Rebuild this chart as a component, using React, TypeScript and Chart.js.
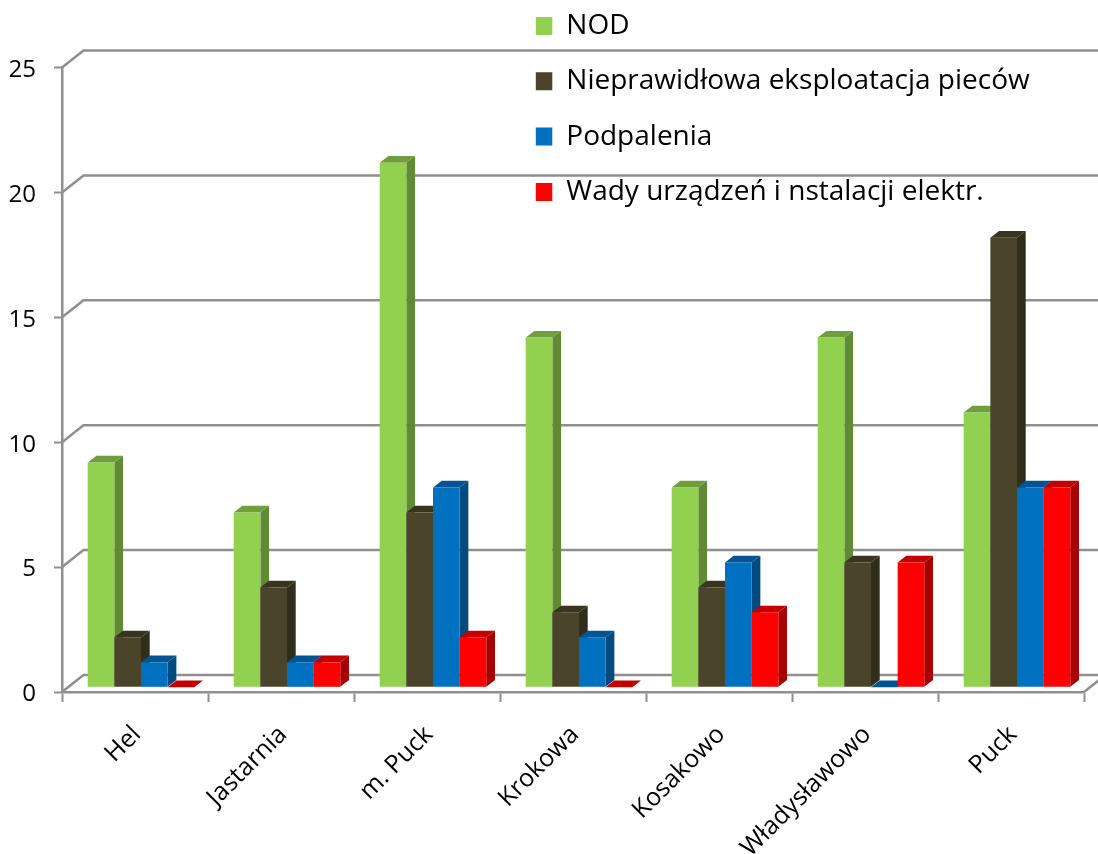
import React, { useEffect, useRef } from "react";
import { Chart, registerables } from "chart.js";

Chart.register(...registerables);

const categories = ["Hel", "Jastarnia", "m. Puck", "Krokowa", "Kosakowo", "Władysławowo", "Puck"];
const seriesNames = ["NOD", "Nieprawidłowa eksploatacja pieców", "Podpalenia", "Wady urządzeń i nstalacji elektr."];
const nod = [9, 7, 21, 14, 8, 14, 11];
const piece = [2, 4, 7, 3, 4, 5, 18];
const podpalenia = [1, 1, 8, 2, 5, 0, 8];
const wady = [0, 1, 2, 0, 3, 5, 8];
const frontColors = ["#92D050", "#4A452A", "#0070C0", "#FF0000"];
const topColors = ["#6F9E3D", "#38341F", "#005592", "#C40000"];
const sideColors = ["#618A35", "#302D1B", "#004A80", "#A80000"];

const FONT = "'Open Sans', sans-serif";
const GRID = "#8F8F8F";
const WALL_DX = 21.5;
const WALL_DY = 17;
const BAR_SHIFT_X = 6;
const BAR_SHIFT_Y = 4.7;
const DEPTH_X = 8.7;
const DEPTH_Y = 6.7;

const poly = (ctx: CanvasRenderingContext2D, pts: number[][], fill: string) => {
  ctx.beginPath();
  pts.forEach(([x, y], i) => (i ? ctx.lineTo(x, y) : ctx.moveTo(x, y)));
  ctx.closePath();
  ctx.fillStyle = fill;
  ctx.fill();
};

const threeD = {
  id: "threeD",
  afterLayout(chart: any) {
    const lg = chart.legend;
    if (lg) {
      lg.left = 508.5;
      lg.right = 1098;
      lg.top = -15.3;
      lg.bottom = 854;
    }
  },
  beforeDatasetsDraw(chart: any) {
    const { ctx, scales } = chart;
    const y = scales.y;
    const { left, right, bottom } = chart.chartArea;
    ctx.save();
    ctx.strokeStyle = GRID;
    ctx.lineWidth = 2.5;
    y.ticks.forEach((t: any) => {
      const py = y.getPixelForValue(t.value);
      ctx.beginPath();
      ctx.moveTo(left, py);
      ctx.lineTo(left + WALL_DX, py - WALL_DY);
      ctx.lineTo(chart.width + 10, py - WALL_DY);
      ctx.stroke();
    });
    ctx.beginPath();
    ctx.moveTo(right, bottom);
    ctx.lineTo(right + WALL_DX, bottom - WALL_DY);
    ctx.stroke();
    ctx.restore();
  },
  // The library's own pass paints the first series on top; series are painted
  // left to right below instead, so each front covers its neighbour's side face.
  beforeDatasetDraw() {
    return false;
  },
  afterDatasetsDraw(chart: any) {
    const { ctx } = chart;
    seriesNames.forEach((_, i) => {
      const meta = chart.getDatasetMeta(i);
      ctx.save();
      ctx.translate(BAR_SHIFT_X, -BAR_SHIFT_Y);
      meta.data.forEach((el: any) => {
        const l = el.x - el.width / 2;
        const r = el.x + el.width / 2;
        poly(ctx, [[r, el.y], [r + DEPTH_X, el.y - DEPTH_Y], [r + DEPTH_X, el.base - DEPTH_Y], [r, el.base]], sideColors[i]);
        poly(ctx, [[l, el.y], [l + DEPTH_X, el.y - DEPTH_Y], [r + DEPTH_X, el.y - DEPTH_Y], [r, el.y]], topColors[i]);
      });
      meta.controller.draw();
      ctx.restore();
    });
  },
};

export default function App() {
  const ref = useRef<HTMLCanvasElement>(null);
  useEffect(() => {
    const values = [nod, piece, podpalenia, wady];
    const chart = new Chart(ref.current!, {
      type: "bar",
      data: {
        labels: categories,
        datasets: seriesNames.map((label, i) => ({
          label,
          data: values[i],
          backgroundColor: frontColors[i],
          borderWidth: 0,
          categoryPercentage: 0.73,
          barPercentage: 1,
        })),
      },
      options: {
        responsive: false,
        animation: false,
        layout: { padding: { top: 67.5, right: 14, left: 0, bottom: 0 } },
        plugins: {
          tooltip: { enabled: false },
          legend: {
            position: "chartArea" as any,
            align: "start",
            labels: {
              boxWidth: 16.5,
              boxHeight: 18,
              padding: 27.3,
              color: "#000",
              font: { family: FONT, size: 28 },
            },
          },
        },
        scales: {
          x: {
            afterFit: (s: any) => { s.height = 854 - 692; },
            grid: { offset: true, drawOnChartArea: false, tickLength: 10, tickColor: GRID, tickWidth: 2 },
            border: { color: GRID, width: 2.5 },
            ticks: {
              autoSkip: false,
              maxRotation: 45,
              minRotation: 45,
              padding: 18,
              labelOffset: 2,
              color: "#000",
              font: { family: FONT, size: 25 },
            },
          },
          y: {
            min: 0,
            max: 25,
            afterFit: (s: any) => { s.width = 62; },
            grid: { drawOnChartArea: false, tickLength: 8, tickColor: GRID, tickWidth: 2 },
            border: { color: GRID, width: 2.5 },
            ticks: {
              stepSize: 5,
              padding: 18,
              labelOffset: 2.5,
              color: "#000",
              font: { family: FONT, size: 24 },
            },
          },
        },
      },
      plugins: [threeD],
    } as any);
    return () => chart.destroy();
  }, []);
  return (
    <canvas
      ref={ref}
      width={1098}
      height={854}
      style={{ position: "fixed", left: 0, top: 0, width: 1098, height: 854, display: "block" }}
    />
  );
}
